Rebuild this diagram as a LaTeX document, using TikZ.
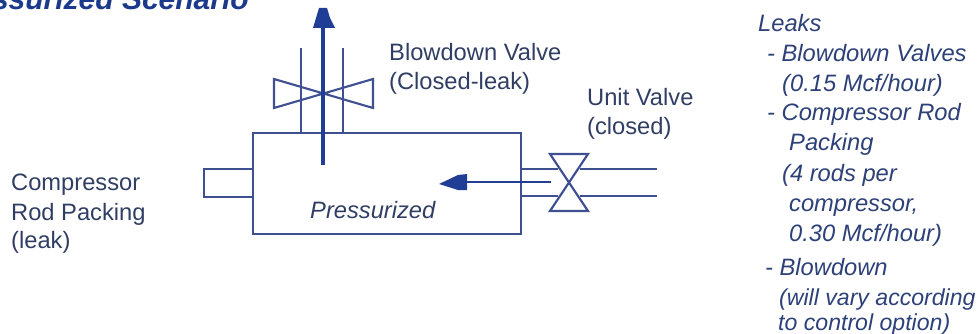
\documentclass[tikz,border=0pt]{standalone}
\usepackage{fontspec}
\setmainfont{Liberation Sans}
\definecolor{pipe}{RGB}{62,79,146}
\definecolor{flow}{RGB}{32,62,150}
\definecolor{txt}{RGB}{48,62,100}
\definecolor{itx}{RGB}{45,65,120}
\definecolor{ttl}{RGB}{28,58,140}
\tikzset{
 line/.style={draw=pipe,line width=2.1pt,line join=miter},
 flowline/.style={draw=flow,line width=3.6pt},
 flowhead/.style={fill=flow,draw=none},
 lbl/.style={anchor=base west,inner sep=0pt,text=txt,font=\fontsize{23.7}{26}\selectfont},
 ilbl/.style={lbl,text=itx,font=\fontsize{23.7}{26}\selectfont\itshape},
 ilblsmall/.style={lbl,text=itx,font=\fontsize{23.1}{26}\selectfont\itshape}
}
\begin{document}
\begin{tikzpicture}[x=1pt,y=-1pt]
\useasboundingbox (0,0) rectangle (979,334);
\begin{scope}
\clip (0,0) rectangle (979,334);
\node[anchor=base east,inner sep=0pt,text=ttl,font=\fontsize{30}{32}\selectfont\bfseries\itshape] (title) at (249,10) {Pressurized Scenario};
\end{scope}
% vessel
\draw[line] (253,133) rectangle (521,234);
\draw[line] (253,169) -- (204,169) -- (204,197) -- (253,197);
% blowdown valve
\draw[line] (301,48) -- (301,133);
\draw[line] (343,48) -- (343,133);
\draw[line] (274,79) -- (373,108) -- (373,79) -- (274,108) -- cycle;
% unit valve
\draw[line] (521,169) -- (558,169);
\draw[line] (521,196) -- (558,196);
\draw[line] (580,169) -- (657,169);
\draw[line] (580,196) -- (657,196);
\draw[line] (550,154) -- (588,154) -- (550,211) -- (588,211) -- cycle;
% flow arrows
\coordinate (upstart) at (323,165);
\coordinate (upbase) at (323,26);
\draw[flowline] (upstart) -- (upbase);
\fill[flowhead] (319,8) -- (327,8) -- (330,18) -- (335,28) -- (313,28) -- (316,18) -- cycle;
\coordinate (lstart) at (551,182);
\coordinate (lbase) at (462,182);
\draw[flowline,line width=2.6pt] (lstart) -- (lbase);
\fill[flowhead] (439,184) -- (458,175) -- (467,174) -- (467,190) -- (458,190) -- cycle;
% labels
\node[lbl] (bv1) at (389,61) {Blowdown Valve};
\node[lbl] (bv2) at (389,90) {(Closed-leak)};
\node[lbl] (uv1) at (587,106) {Unit Valve};
\node[lbl] (uv2) at (587,135) {(closed)};
\node[lbl] (cr1) at (11,190) {Compressor};
\node[lbl] (cr2) at (11,220) {Rod Packing};
\node[lbl] (cr3) at (11,248) {(leak)};
\node[ilbl,text=txt] (pr) at (310,218) {Pressurized};
\node[ilbl] (l1) at (758,32) {Leaks};
\node[ilbl] (l2) at (767,62) {- Blowdown Valves};
\node[ilbl] (l3) at (782,92) {(0.15 Mcf/hour)};
\node[ilbl] (l4) at (767,121) {- Compressor Rod};
\node[ilbl] (l5) at (789,150) {Packing};
\node[ilbl] (l6) at (782,181) {(4 rods per};
\node[ilbl] (l7) at (789,211) {compressor,};
\node[ilbl] (l8) at (789,241) {0.30 Mcf/hour)};
\node[ilbl] (l9) at (765,275) {- Blowdown};
\node[ilblsmall] (l10) at (779,305) {(will vary according};
\node[ilblsmall] (l11) at (778,330) {to control option)};
\end{tikzpicture}
\end{document}
